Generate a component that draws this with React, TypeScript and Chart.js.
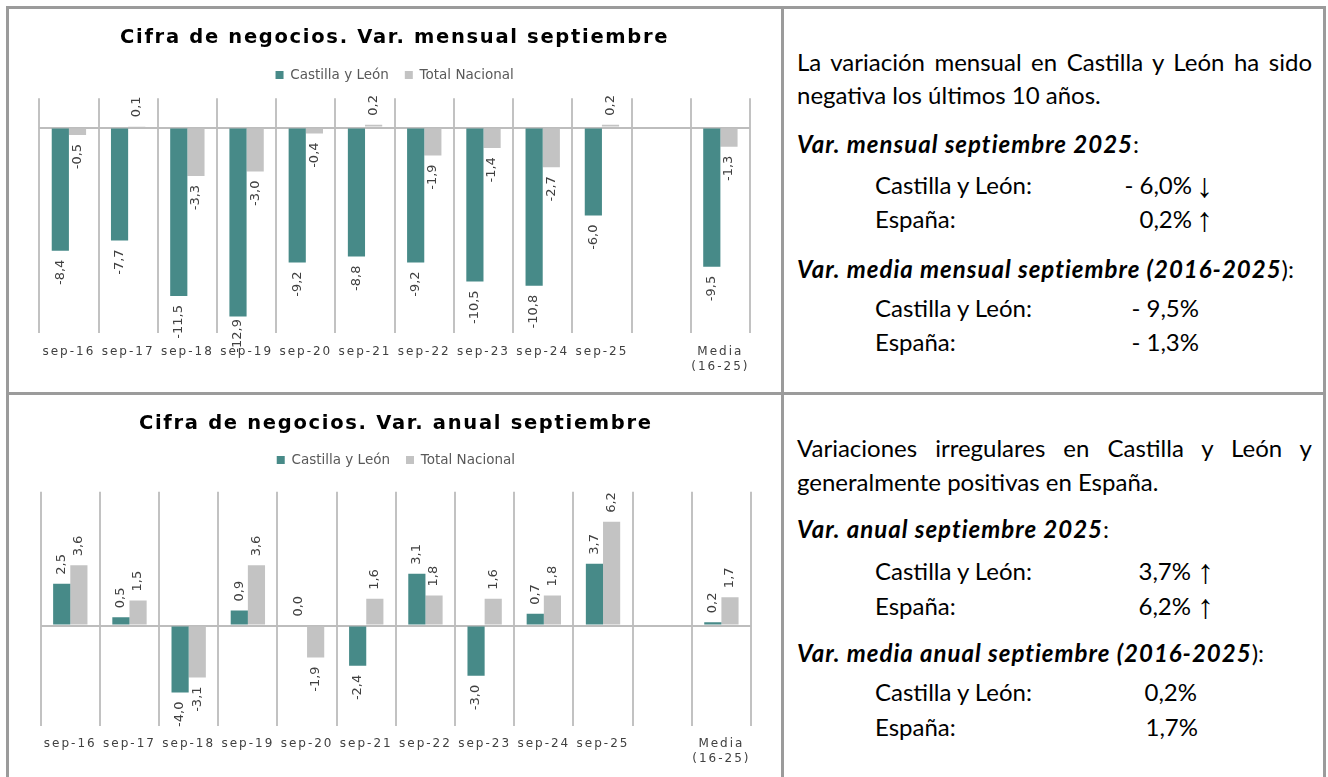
import React, { useEffect, useRef } from 'react';
import { Chart, registerables } from 'chart.js';

Chart.register(...registerables);

// ---------- DATA ----------
const categories: (string | string[])[] = [
  'sep-16', 'sep-17', 'sep-18', 'sep-19', 'sep-20', 'sep-21', 'sep-22', 'sep-23', 'sep-24', 'sep-25', '', ['Media', '(16-25)'],
];
const seriesLabels = ['Castilla y León', 'Total Nacional'];

const mensualTitle = 'Cifra de negocios. Var. mensual septiembre';
const mensualCastilla = [-8.4, -7.7, -11.5, -12.9, -9.2, -8.8, -9.2, -10.5, -10.8, -6.0, null, -9.5];
const mensualNacional = [-0.5, 0.1, -3.3, -3.0, -0.4, 0.2, -1.9, -1.4, -2.7, 0.2, null, -1.3];
const mensualRange = [-14, 2];

const anualTitle = 'Cifra de negocios. Var. anual septiembre';
const anualCastilla = [2.5, 0.5, -4.0, 0.9, 0.0, -2.4, 3.1, -3.0, 0.7, 3.7, null, 0.2];
const anualNacional = [3.6, 1.5, -3.1, 3.6, -1.9, 1.6, 1.8, 1.6, 1.8, 6.2, null, 1.7];
const anualRange = [-6, 8];

// ---------- STYLE ----------
const TEAL = '#478a88';
const GRAY = '#c3c3c3';
const CHART_FONT = 'DejaVu Sans';

type Lay = {
  padLeft: number; padRight: number; titleTop: number; titleBottom: number;
  spacer: number; tickPad: number; xHeight: number;
};
const layMensual: Lay = { padLeft: 30.3, padRight: 31, titleTop: 17.5, titleBottom: 2.35, spacer: 6.55, tickPad: 11.8, xHeight: 59.3 };
const layAnual: Lay = { padLeft: 31.7, padRight: 30, titleTop: 17.1, titleBottom: 1.75, spacer: 14.95, tickPad: 10.8, xHeight: 51 };

const spacingPlugin = {
  id: 'spacing',
  beforeDraw(chart: any) {
    const t = chart.titleBlock;
    if (t && !t.__ls) {
      const orig = t.draw;
      t.draw = function (...a: any[]) {
        const c = this.ctx; c.save(); c.letterSpacing = '1.7px'; orig.apply(this, a); c.restore();
      };
      t.__ls = true;
    }
    const x = chart.scales.x;
    if (x && !x.__ls) {
      const o = x.drawLabels;
      x.drawLabels = function (...a: any[]) {
        const c = this.ctx; c.save(); c.letterSpacing = '2px'; o.apply(this, a); c.restore();
      };
      x.__ls = true;
    }
  },
};

const GAP = 9;
const valueLabels = {
  id: 'valueLabels',
  afterDatasetsDraw(chart: any) {
    const ctx = chart.ctx;
    const area = chart.chartArea;
    ctx.save();
    ctx.font = `13px "${CHART_FONT}"`;
    ctx.fillStyle = '#404040';
    ctx.textBaseline = 'middle';
    chart.data.datasets.forEach((ds: any, di: number) => {
      const meta = chart.getDatasetMeta(di);
      meta.data.forEach((el: any, i: number) => {
        const v = ds.data[i];
        if (v == null) return;
        const txt = v.toFixed(1).replace('.', ',');
        const { x, y } = el.getProps(['x', 'y'], true);
        const w = ctx.measureText(txt).width;
        ctx.save();
        ctx.translate(x, y);
        ctx.rotate(-Math.PI / 2);
        if (v >= 0) {
          ctx.textAlign = 'left';
          ctx.fillText(txt, GAP, 0);
        } else {
          const limit = area.bottom + 20;
          const g = Math.min(GAP, limit - y - w);
          ctx.textAlign = 'right';
          ctx.fillText(txt, -g, 0);
        }
        ctx.restore();
      });
    });
    ctx.restore();
  },
};

function makeConfig(title: string, cyl: (number | null)[], tn: (number | null)[], range: number[], lay: Lay): any {
  return {
    type: 'bar',
    data: {
      labels: categories,
      datasets: [
        { label: seriesLabels[0], data: cyl, backgroundColor: TEAL, borderWidth: 0, categoryPercentage: 0.58, barPercentage: 1 },
        { label: seriesLabels[1], data: tn, backgroundColor: GRAY, borderWidth: 0, categoryPercentage: 0.58, barPercentage: 1 },
      ],
    },
    options: {
      animation: false,
      responsive: false,
      devicePixelRatio: 1,
      events: [],
      layout: { padding: { left: lay.padLeft, right: lay.padRight, top: 0, bottom: 0 } },
      plugins: {
        title: {
          display: true, text: title, color: '#000000',
          font: { family: CHART_FONT, size: 19.5, weight: 'bold', lineHeight: 1.2 },
          padding: { top: lay.titleTop, bottom: lay.titleBottom },
        },
        legend: {
          display: true, position: 'top', weight: 1800,
          labels: { boxWidth: 8, boxHeight: 8, padding: 16, color: '#595959', font: { family: CHART_FONT, size: 13.5 } },
        },
        subtitle: {
          display: true, text: '', font: { size: 1, lineHeight: 1 },
          padding: { top: 0, bottom: lay.spacer - 1 },
        },
        tooltip: { enabled: false },
      },
      scales: {
        x: {
          grid: { display: true, color: '#c2c2c2', lineWidth: 2, drawTicks: false, offset: true },
          border: { display: false },
          ticks: {
            color: '#404040', font: { family: CHART_FONT, size: 12, lineHeight: 1.25 },
            padding: lay.tickPad, autoSkip: false, maxRotation: 0, minRotation: 0,
          },
          afterFit: (s: any) => { s.height = lay.xHeight; },
        },
        y: {
          min: range[0], max: range[1],
          grid: {
            color: (c: any) => (c.tick && c.tick.value === 0 ? '#bdbdbd' : 'rgba(0,0,0,0)'),
            lineWidth: 2, drawTicks: false,
          },
          border: { display: false },
          ticks: { display: false, stepSize: 2 },
        },
      },
    },
    plugins: [spacingPlugin, valueLabels],
  };
}

function BarChart(props: { title: string; cyl: (number | null)[]; tn: (number | null)[]; range: number[]; lay: Lay; width: number; height: number; top: number }) {
  const ref = useRef<HTMLCanvasElement>(null);
  useEffect(() => {
    const chart = new Chart(ref.current as HTMLCanvasElement, makeConfig(props.title, props.cyl, props.tn, props.range, props.lay));
    return () => chart.destroy();
  }, []);
  return (
    <canvas
      ref={ref}
      width={props.width}
      height={props.height}
      style={{ position: 'absolute', left: 0, top: props.top, width: props.width, height: props.height, display: 'block' }}
    />
  );
}

// ---------- TEXT ----------
const OX = 9;
const OY = 9;
const TFONT = "Lato, 'Open Sans', sans-serif";
const FS = 24;
const LH = 24;
const ASC = 21.3;

const baseStyle = (x: number, base: number): React.CSSProperties => ({
  position: 'absolute', left: x - OX, top: base - ASC - OY, height: LH, lineHeight: LH + 'px',
  fontSize: FS, fontFamily: TFONT, color: '#000', whiteSpace: 'nowrap',
});

function Line(props: { x: number; base: number; width?: number; justify?: boolean; children: React.ReactNode }) {
  const st: React.CSSProperties = { ...baseStyle(props.x, props.base) };
  if (props.width) st.width = props.width;
  if (props.justify) { st.textAlign = 'justify'; (st as any).textAlignLast = 'justify'; }
  return <div style={st}>{props.children}</div>;
}

function Row(props: { base: number; label: string; value: string; right: number; arrow?: string; arrowX?: number }) {
  return (
    <>
      <Line x={875} base={props.base}>{props.label}</Line>
      <div style={{ ...baseStyle(props.right - 200, props.base), width: 200, textAlign: 'right' }}>{props.value}</div>
      {props.arrow ? (
        <div style={{ ...baseStyle(props.arrowX || 0, props.base), fontFamily: "'Liberation Sans', 'DejaVu Sans'", fontSize: 34 }}>{props.arrow}</div>
      ) : null}
    </>
  );
}

const bi: React.CSSProperties = { fontWeight: 'bold', fontStyle: 'italic', letterSpacing: '1px' };

export default function App() {
  return (
    <div
      style={{
        position: 'absolute', left: 6, top: 6, width: 1320, height: 771, boxSizing: 'border-box',
        border: '3px solid #9b9b9b', borderBottom: 'none', background: '#fff',
      }}
    >
      <div style={{ position: 'absolute', left: 772, top: 0, width: 3, height: '100%', background: '#9b9b9b' }} />
      <div style={{ position: 'absolute', left: 0, top: 383, width: '100%', height: 3, background: '#9b9b9b' }} />

      <BarChart title={mensualTitle} cyl={mensualCastilla} tn={mensualNacional} range={mensualRange} lay={layMensual} width={772} height={383} top={0} />
      <BarChart title={anualTitle} cyl={anualCastilla} tn={anualNacional} range={anualRange} lay={layAnual} width={772} height={382} top={386} />

      {/* top right */}
      <Line x={797} base={71} width={515} justify>La variación mensual en Castilla y León ha sido</Line>
      <Line x={797} base={104}>negativa los últimos 10 años.</Line>
      <Line x={797} base={153}><span style={bi}>Var. mensual septiembre 2025</span>:</Line>
      <Row base={194} label="Castilla y León:" value="- 6,0%" right={1192} arrow="↓" arrowX={1196} />
      <Row base={228} label="España:" value="0,2%" right={1192} arrow="↑" arrowX={1196} />
      <Line x={797} base={278}><span style={bi}>Var. media mensual septiembre (2016-2025</span>):</Line>
      <Row base={317} label="Castilla y León:" value="- 9,5%" right={1199} />
      <Row base={351} label="España:" value="- 1,3%" right={1199} />

      {/* bottom right */}
      <Line x={797} base={457} width={515} justify>Variaciones irregulares en Castilla y León y</Line>
      <Line x={797} base={491}>generalmente positivas en España.</Line>
      <Line x={797} base={538}><span style={bi}>Var. anual septiembre 2025</span>:</Line>
      <Row base={580} label="Castilla y León:" value="3,7%" right={1191} arrow="↑" arrowX={1197} />
      <Row base={615} label="España:" value="6,2%" right={1191} arrow="↑" arrowX={1197} />
      <Line x={797} base={662}><span style={bi}>Var. media anual septiembre (2016-2025</span>):</Line>
      <Row base={701} label="Castilla y León:" value="0,2%" right={1197} />
      <Row base={736} label="España:" value="1,7%" right={1198} />
    </div>
  );
}
